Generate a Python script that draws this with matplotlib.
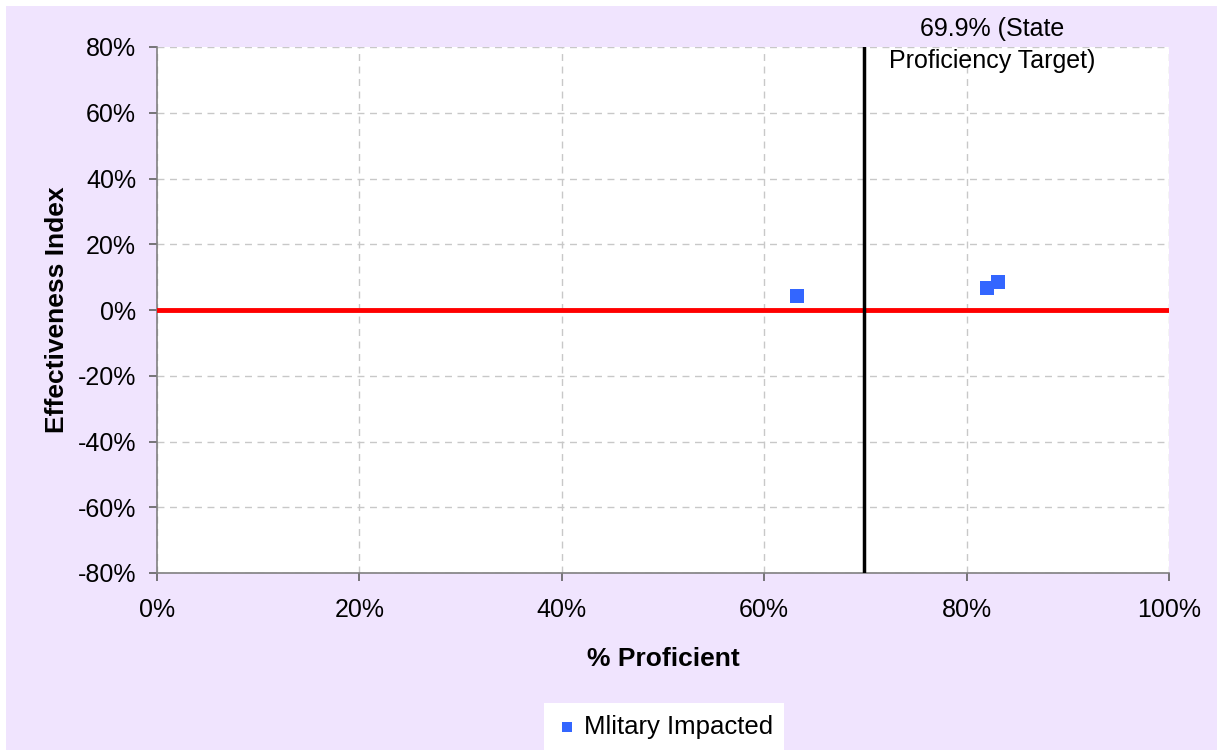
import matplotlib
matplotlib.use("Agg")
import matplotlib.pyplot as plt
from matplotlib.patches import Rectangle
from matplotlib.ticker import FuncFormatter

plt.rcParams['font.family'] = ['Liberation Sans', 'DejaVu Sans']

# Data
series_name = "Mlitary Impacted"
x_proficient = [63.2, 82.0, 83.1]
y_effectiveness = [4.3, 6.8, 8.6]
state_target = 69.9
target_label = "69.9% (State\nProficiency Target)"
x_ticks = [0, 20, 40, 60, 80, 100]
y_ticks = [-80, -60, -40, -20, 0, 20, 40, 60, 80]

W, H = 1217, 750
fig = plt.figure(figsize=(W / 100, H / 100), dpi=100)
fig.patch.set_facecolor('white')
fig.patches.append(Rectangle((6 / W, 0), 1 - 6 / W, (H - 6) / H, transform=fig.transFigure,
                             facecolor='#F0E4FE', edgecolor='none', zorder=-10))

ax = fig.add_axes([157 / W, (H - 573) / H, (1169 - 157) / W, (573 - 47) / H])
ax.set_facecolor('white')
ax.set_xlim(0, 100)
ax.set_ylim(-80, 80)
ax.set_xticks(x_ticks)
ax.set_yticks(y_ticks)
pct = FuncFormatter(lambda v, p: f"{v:.0f}%")
ax.xaxis.set_major_formatter(pct)
ax.yaxis.set_major_formatter(pct)
ax.grid(True, color='#C8C8C8', linestyle=(0, (5, 4)), linewidth=1)
ax.set_axisbelow(True)
for s in ['top', 'right']:
    ax.spines[s].set_visible(False)
for s in ['left', 'bottom']:
    ax.spines[s].set_color('#808080')
    ax.spines[s].set_linewidth(1.2)
ax.tick_params(direction='out', length=6, width=1.2, color='#606060', labelsize=18)
ax.tick_params(axis='x', pad=12)
ax.tick_params(axis='y', pad=9)

ax.axhline(0, color='#FF0000', linewidth=3.5, zorder=3)
ax.axvline(state_target, color='black', linewidth=2.5, zorder=3)
ax.scatter(x_proficient, y_effectiveness, marker='s', s=100, color='#3366FF', zorder=4,
           label=series_name, linewidths=0)

ax.text(82.5, 80.6, target_label, ha='center', va='center', fontsize=18,
        linespacing=1.4, clip_on=False)

ax.set_xlabel("% Proficient", fontsize=19, fontweight='bold', labelpad=18)
ax.set_ylabel("Effectiveness Index", fontsize=19, fontweight='bold', labelpad=6)

leg = ax.legend(loc='center', bbox_to_anchor=(664 / W, (H - 727) / H), bbox_transform=fig.transFigure,
                frameon=True, fontsize=18.5, handletextpad=0.2, handlelength=0.9, markerscale=0.75,
                borderpad=0.45, fancybox=False, borderaxespad=0)
leg.get_frame().set_edgecolor('none')
leg.get_frame().set_facecolor('white')
leg.get_frame().set_alpha(1)

fig.savefig("out.png", dpi=100, facecolor=fig.get_facecolor())
